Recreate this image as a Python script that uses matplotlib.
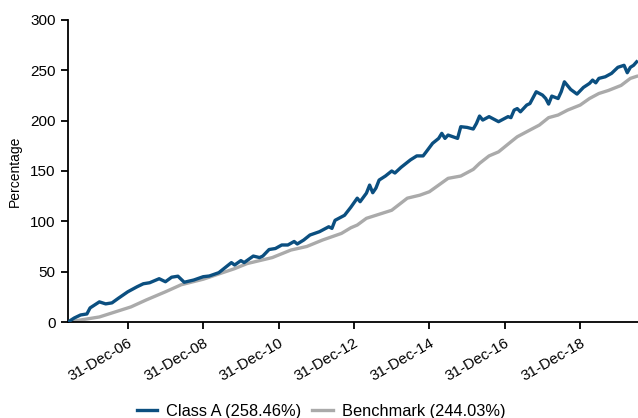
import matplotlib
matplotlib.use("Agg")
import matplotlib.pyplot as plt
import matplotlib.dates as mdates
import pandas as pd

plt.rcParams['font.family'] = ['Liberation Sans', 'DejaVu Sans']

class_a_dates = [
    "2005-05-31", "2005-07-31", "2005-09-30", "2005-11-30", "2005-12-31",
    "2006-03-31", "2006-05-31", "2006-07-31", "2006-09-30", "2006-12-31",
    "2007-03-31", "2007-05-31", "2007-07-31", "2007-10-31", "2007-12-31",
    "2008-02-29", "2008-04-30", "2008-06-30", "2008-09-30", "2008-12-31",
    "2009-02-28", "2009-05-31", "2009-09-30", "2009-10-31", "2009-12-31",
    "2010-01-31", "2010-04-30", "2010-06-30", "2010-07-31", "2010-09-30",
    "2010-11-30", "2011-01-31", "2011-03-31", "2011-05-31", "2011-06-30",
    "2011-08-31", "2011-10-31", "2012-01-31", "2012-04-30", "2012-05-31",
    "2012-06-30", "2012-09-30", "2012-11-30", "2013-01-31", "2013-02-28",
    "2013-04-30", "2013-05-31", "2013-06-30", "2013-07-31", "2013-08-31",
    "2013-10-31", "2013-12-31", "2014-01-31", "2014-03-31", "2014-06-30",
    "2014-08-31", "2014-10-31", "2014-11-30", "2015-01-31", "2015-03-31",
    "2015-04-30", "2015-05-31", "2015-06-30", "2015-09-30", "2015-10-31",
    "2015-12-31", "2016-02-29", "2016-03-31", "2016-04-30", "2016-05-31",
    "2016-07-31", "2016-10-31", "2017-01-31", "2017-02-28", "2017-03-31",
    "2017-04-30", "2017-05-31", "2017-07-31", "2017-08-31", "2017-10-31",
    "2017-12-31", "2018-01-31", "2018-02-28", "2018-03-31", "2018-05-31",
    "2018-06-30", "2018-07-31", "2018-09-30", "2018-11-30", "2019-01-31",
    "2019-03-31", "2019-04-30", "2019-05-31", "2019-06-30", "2019-08-31",
    "2019-10-31", "2019-12-31", "2020-02-29", "2020-03-31", "2020-04-30",
    "2020-05-31", "2020-06-30",
]
class_a_values = [
    0, 4, 7, 8, 14,
    20, 18, 19, 23.5, 30,
    35, 38, 39, 43, 40,
    44.5, 45.5, 39.5, 41.7, 45,
    45.7, 49, 59, 56.6, 61,
    59, 65.5, 64, 65.5, 72,
    73, 76.5, 76.5, 80, 77.5,
    81.4, 86.4, 89.7, 94.6, 93,
    101, 106, 114, 123, 119.5,
    128, 136, 128.4, 133, 141,
    145, 150, 148, 153.6, 161,
    165, 165, 169, 177.5, 182.4,
    187.4, 182.4, 185.7, 182.4, 194,
    193.3, 191.7, 197.3, 204.6, 200.6,
    204, 199, 204, 203, 210.5,
    212, 208.8, 215.5, 217, 228.7,
    225.4, 222, 216.5, 224.4, 222,
    228.7, 238.6, 231, 226.4, 233,
    237, 240.3, 237.6, 242, 243.6,
    247, 253, 255, 247.6, 253,
    255, 258.46,
]

bench_dates = [
    "2005-05-31", "2005-09-30", "2006-03-31", "2006-08-31", "2007-01-31",
    "2007-06-30", "2007-12-31", "2008-05-31", "2008-12-31", "2009-10-31",
    "2010-02-28", "2010-10-31", "2011-04-30", "2011-09-30", "2012-02-29",
    "2012-08-31", "2012-11-30", "2013-01-31", "2013-04-30", "2013-07-31",
    "2013-12-31", "2014-05-31", "2014-09-30", "2014-12-31", "2015-03-31",
    "2015-06-30", "2015-10-31", "2016-02-29", "2016-04-30", "2016-07-31",
    "2016-10-31", "2017-02-28", "2017-04-30", "2017-08-31", "2017-11-30",
    "2018-02-28", "2018-05-31", "2018-08-31", "2018-12-31", "2019-03-31",
    "2019-06-30", "2019-09-30", "2020-01-31", "2020-04-30", "2020-06-30",
]
bench_values = [
    0, 2, 5, 10, 15,
    22, 30, 37, 42.5, 53,
    58, 64, 71.5, 75, 81.4,
    88, 93.6, 96.3, 103, 106,
    111, 123, 126, 129.4, 136,
    142.7, 145, 151.6, 157.6, 165,
    169, 179, 184, 190.7, 195.6,
    203, 205.6, 210.5, 215.5, 222,
    227, 230, 235, 242, 244.03,
]

series_labels = ["Class A (258.46%)", "Benchmark (244.03%)"]
tick_dates = ["2006-12-31", "2008-12-31", "2010-12-31", "2012-12-31",
              "2014-12-31", "2016-12-31", "2018-12-31"]
y_ticks = [0, 50, 100, 150, 200, 250, 300]

fig = plt.figure(figsize=(6.38, 4.18), dpi=100)
ax = fig.add_axes([68/638, (418-322)/418, (638-68)/638, (322-20)/418])

ax.plot(pd.to_datetime(class_a_dates), class_a_values, color="#0b4f80",
        lw=2.4, label=series_labels[0], zorder=3)
ax.plot(pd.to_datetime(bench_dates), bench_values, color="#aaaaaa",
        lw=2.4, label=series_labels[1], zorder=2)

ax.set_xlim(pd.Timestamp("2005-05-31"), pd.Timestamp("2020-07-13"))
ax.set_ylim(0, 300)
ax.set_yticks(y_ticks)
ax.set_xticks(pd.to_datetime(tick_dates))
ax.xaxis.set_major_formatter(mdates.DateFormatter("%d-%b-%y"))
for lab in ax.get_xticklabels():
    lab.set_rotation(30)
    lab.set_ha("right")
    lab.set_rotation_mode("anchor")

for s in ["top", "right"]:
    ax.spines[s].set_visible(False)
for s in ["left", "bottom"]:
    ax.spines[s].set_linewidth(1.3)
ax.tick_params(axis="both", labelsize=11, width=1.3, length=5, colors="black")
ax.tick_params(axis="x", pad=5)
ax.tick_params(axis="y", pad=4)
ax.set_ylabel("Percentage", fontsize=10, labelpad=6)

fig.legend(loc="center", bbox_to_anchor=(321/638, (418-411.7)/418), ncol=2,
           frameon=False, fontsize=11.8, handlelength=1.25, handletextpad=0.55,
           columnspacing=0.65, borderaxespad=0, borderpad=0)

fig.savefig("out.png", dpi=100)
